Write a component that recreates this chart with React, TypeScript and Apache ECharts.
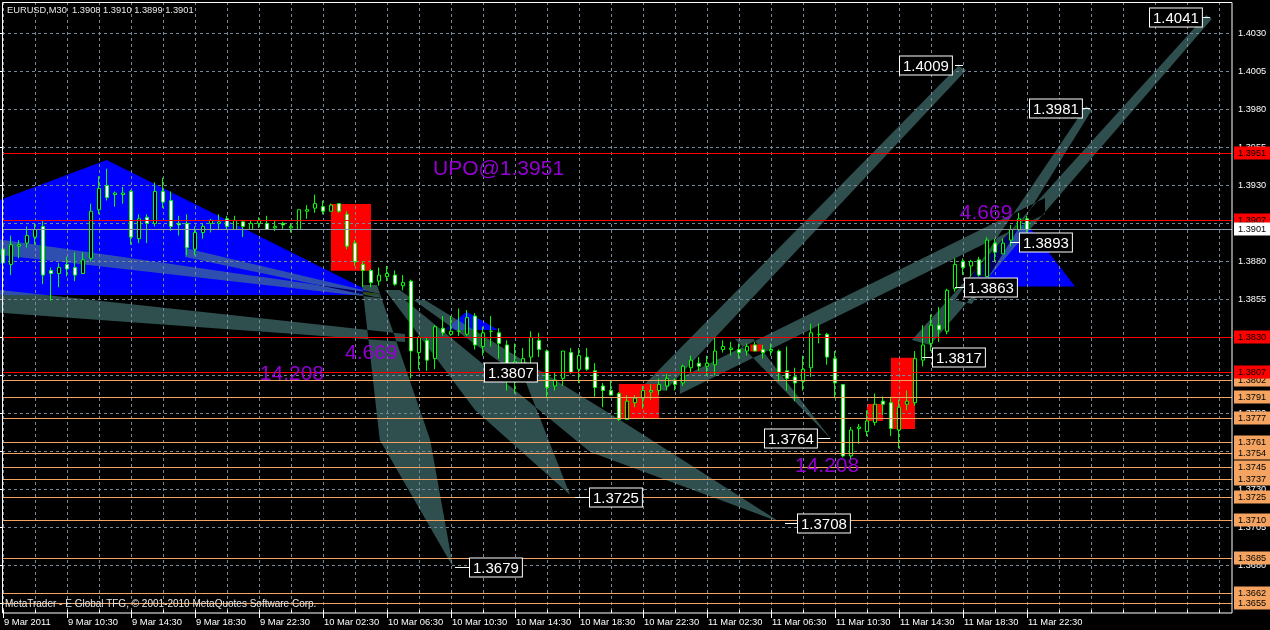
import React, { useEffect, useRef } from "react";
import * as echarts from "echarts";

// ---------- axis tick labels ----------
const xTickLabels = [
  "9 Mar 2011", "9 Mar 10:30", "9 Mar 14:30", "9 Mar 18:30", "9 Mar 22:30",
  "10 Mar 02:30", "10 Mar 06:30", "10 Mar 10:30", "10 Mar 14:30", "10 Mar 18:30",
  "10 Mar 22:30", "11 Mar 02:30", "11 Mar 06:30", "11 Mar 10:30", "11 Mar 14:30",
  "11 Mar 18:30", "11 Mar 22:30",
];
const priceTicks = [
  1.3655, 1.368, 1.3705, 1.373, 1.3755, 1.378, 1.3805, 1.383, 1.3855, 1.388,
  1.3905, 1.393, 1.3955, 1.398, 1.4005, 1.403,
];
const AXIS_SLOTS = 155;

// ---------- candles (M30) ----------
const opens = [
  1.3888, 1.3878, 1.389, 1.3892, 1.3896, 1.3903, 1.3874, 1.3872, 1.3878, 1.3876,
  1.3872, 1.3882, 1.3914, 1.393, 1.3924, 1.3924, 1.3926, 1.3895, 1.3909, 1.3905,
  1.3926, 1.392, 1.3905, 1.3905, 1.3888, 1.3899, 1.3905, 1.3905, 1.3908, 1.3901,
  1.3906, 1.3901, 1.3905, 1.3905, 1.3902, 1.3905, 1.3902, 1.3901, 1.3913, 1.3915,
  1.3916, 1.3913, 1.3918, 1.3911, 1.3892, 1.3878, 1.3874, 1.3867, 1.387, 1.3871,
  1.3864, 1.3867, 1.382, 1.3828, 1.3816, 1.3836, 1.3832, 1.3834, 1.3832, 1.3844,
  1.3824, 1.3834, 1.3833, 1.3825, 1.3811, 1.3813, 1.3817, 1.3828, 1.3821, 1.3798,
  1.3803, 1.382, 1.3809, 1.3817, 1.3808, 1.3798, 1.3795, 1.3793, 1.3776, 1.3787,
  1.379, 1.3794, 1.3795, 1.3798, 1.3802, 1.38, 1.381, 1.3813, 1.3811, 1.3812,
  1.3822, 1.3822, 1.3822, 1.3821, 1.3825, 1.3822, 1.3821, 1.3821, 1.3808, 1.3804,
  1.3801, 1.381, 1.3832, 1.3832, 1.3816, 1.3799, 1.3752, 1.377, 1.3768, 1.3774,
  1.3788, 1.3787, 1.3769, 1.3786, 1.3787, 1.3815, 1.3826, 1.3838, 1.3834, 1.3862,
  1.388, 1.3877, 1.3881, 1.387, 1.3892, 1.3885, 1.3894, 1.3901, 1.3908,
];
const closes = [
  1.3879, 1.3891, 1.3891, 1.3897, 1.3901, 1.3871, 1.3872, 1.3876, 1.3875, 1.3871,
  1.3881, 1.3913, 1.3928, 1.3922, 1.3925, 1.3925, 1.3896, 1.3908, 1.3905, 1.3926,
  1.3919, 1.3903, 1.3904, 1.3889, 1.3899, 1.3903, 1.3907, 1.3906, 1.3903, 1.3907,
  1.3903, 1.3905, 1.3907, 1.3901, 1.3903, 1.3904, 1.3903, 1.3914, 1.3914, 1.3918,
  1.3913, 1.3917, 1.3913, 1.389, 1.388, 1.3874, 1.3866, 1.3871, 1.3872, 1.3865,
  1.3866, 1.3821, 1.383, 1.3815, 1.3837, 1.3833, 1.3834, 1.3834, 1.3843, 1.3825,
  1.3833, 1.3834, 1.3826, 1.3808, 1.3814, 1.3816, 1.383, 1.3822, 1.3797, 1.3802,
  1.3821, 1.3807, 1.3818, 1.3809, 1.3797, 1.3795, 1.3792, 1.3776, 1.3788, 1.379,
  1.3795, 1.3795, 1.3799, 1.3803, 1.3799, 1.3811, 1.3815, 1.3811, 1.3813, 1.3821,
  1.3824, 1.3823, 1.382, 1.3824, 1.3821, 1.382, 1.3822, 1.3807, 1.3803, 1.38,
  1.3809, 1.3833, 1.3832, 1.3817, 1.38, 1.3752, 1.3769, 1.3771, 1.3775, 1.3786,
  1.3786, 1.377, 1.3784, 1.3788, 1.3816, 1.3825, 1.3838, 1.3835, 1.3861, 1.3878,
  1.3876, 1.388, 1.3871, 1.3894, 1.3886, 1.3892, 1.3901, 1.3908, 1.3901,
];
const lows = [
  1.3872, 1.3871, 1.3882, 1.3889, 1.3891, 1.3865, 1.3854, 1.3863, 1.387, 1.3867,
  1.3872, 1.388, 1.3911, 1.392, 1.3916, 1.3918, 1.3891, 1.3892, 1.3892, 1.3903,
  1.3915, 1.39, 1.3897, 1.3884, 1.3884, 1.3895, 1.3899, 1.3901, 1.3901, 1.3901,
  1.3896, 1.3901, 1.3902, 1.3901, 1.39, 1.3901, 1.3899, 1.3901, 1.3908, 1.3912,
  1.3911, 1.3913, 1.3912, 1.3888, 1.3877, 1.3863, 1.3863, 1.3864, 1.3867, 1.3864,
  1.3861, 1.3803, 1.3809, 1.3808, 1.3809, 1.3831, 1.3831, 1.3831, 1.3831, 1.3822,
  1.3818, 1.3824, 1.3816, 1.3795, 1.3793, 1.3808, 1.3813, 1.3817, 1.379, 1.3795,
  1.3798, 1.3806, 1.38, 1.3808, 1.3791, 1.3784, 1.3792, 1.3775, 1.3776, 1.3784,
  1.3783, 1.3789, 1.3792, 1.3795, 1.3795, 1.3798, 1.3807, 1.3808, 1.3805, 1.3805,
  1.382, 1.3818, 1.3816, 1.3818, 1.3821, 1.3816, 1.3818, 1.3801, 1.3795, 1.3788,
  1.3795, 1.3804, 1.3826, 1.3812, 1.379, 1.3751, 1.375, 1.376, 1.3765, 1.3772,
  1.3779, 1.3765, 1.3757, 1.3782, 1.3785, 1.3811, 1.3821, 1.3827, 1.3832, 1.386,
  1.3871, 1.387, 1.387, 1.387, 1.388, 1.3885, 1.389, 1.39, 1.3899,
];
const highs = [
  1.3889, 1.3897, 1.3894, 1.3903, 1.3905, 1.3907, 1.3876, 1.3879, 1.3883, 1.3886,
  1.3886, 1.3918, 1.3936, 1.3941, 1.3926, 1.3929, 1.3927, 1.3911, 1.3911, 1.3932,
  1.3935, 1.3926, 1.391, 1.3911, 1.3903, 1.3905, 1.3908, 1.3911, 1.391, 1.391,
  1.3907, 1.3907, 1.3909, 1.391, 1.3907, 1.3906, 1.3905, 1.3914, 1.3917, 1.3924,
  1.392, 1.3918, 1.3918, 1.3913, 1.3894, 1.388, 1.3875, 1.3876, 1.3877, 1.3874,
  1.3871, 1.3868, 1.3831, 1.383, 1.3838, 1.3844, 1.3844, 1.3849, 1.3848, 1.3846,
  1.3837, 1.3844, 1.3836, 1.3828, 1.3826, 1.3823, 1.3834, 1.3833, 1.3822, 1.3807,
  1.3821, 1.3823, 1.3823, 1.3823, 1.3813, 1.38, 1.3802, 1.3794, 1.3792, 1.3792,
  1.3798, 1.3799, 1.3803, 1.3806, 1.3803, 1.3812, 1.3818, 1.3817, 1.3818, 1.383,
  1.3828, 1.3827, 1.3826, 1.3826, 1.3827, 1.3825, 1.3826, 1.3822, 1.3824, 1.381,
  1.3818, 1.3839, 1.3839, 1.3833, 1.3821, 1.3799, 1.3771, 1.3773, 1.3782, 1.3793,
  1.3791, 1.3791, 1.3789, 1.3795, 1.3821, 1.3838, 1.3845, 1.385, 1.3862, 1.3882,
  1.3882, 1.3881, 1.3883, 1.3896, 1.3895, 1.3895, 1.3904, 1.3912, 1.391,
];

// ---------- horizontal levels ----------
const redLevels = [1.3951, 1.3907, 1.383, 1.3807];
const bidLevel = 1.3901;
const orangeLevels = [
  1.3802, 1.3791, 1.3777, 1.3761, 1.3754, 1.3745, 1.3737, 1.3725, 1.371, 1.3685,
  1.3662, 1.3655,
];

// ---------- drawn objects, in (bar index, price) ----------
const blueTriangles = [
  [[-32, 1.38579], [12.96, 1.39468], [46.7, 1.38579]],
  [[55.04, 1.38349], [57.96, 1.38469], [61.91, 1.38349]],
  [[120, 1.38634], [127.3, 1.39094], [134, 1.38634]],
];
const fans = [
  // converging from the left edge
  [[-1.6, 1.38619], [50.25, 1.38322], [50.25, 1.3827], [-1.6, 1.38467]],
  [[-1.6, 1.38954], [47.1, 1.38586], [47.1, 1.38559], [-1.6, 1.38849]],
  [[22.75, 1.38888], [47.1, 1.38586], [47.1, 1.38559], [22.75, 1.38829]],
  // down to 1.3679 / 1.3725 / 1.3708
  [[44.9, 1.38645], [46.75, 1.38645], [53.4, 1.37625], [56.25, 1.36789], [47.1, 1.37625]],
  [[47.75, 1.38612], [49.6, 1.38612], [65.25, 1.3802], [70.9, 1.37263], [59, 1.37822]],
  [[50.25, 1.38546], [52.75, 1.38546], [77.1, 1.37757], [97.1, 1.37085], [73.4, 1.37546]],
  // down to 1.3764
  [[91.5, 1.3829], [93.8, 1.3829], [103.6, 1.37625]],
  // up to 1.4009
  [[80, 1.3798], [82.75, 1.37947], [120.4, 1.4006], [119.4, 1.40086]],
  // long shallow band
  [[84.6, 1.38033], [130.25, 1.39217], [130.25, 1.39112], [84.6, 1.37928]],
  // up to 1.3981
  [[119, 1.38546], [121.1, 1.3852], [136.1, 1.39797], [135.4, 1.39823]],
  // up to 1.4041
  [[113.6, 1.38283], [115.9, 1.3825], [151.1, 1.40395], [150.4, 1.40422]],
];
// [fromBar, toBar, topPrice, bottomPrice]
const redBoxes = [
  [41, 46, 1.39178, 1.38739],
  [77, 82, 1.37993, 1.37763],
  [93.4, 95, 1.38253, 1.38207],
  [108, 110, 1.37862, 1.3775],
  [111, 114, 1.38166, 1.37697],
];
// price labels: text, box left bar, leader from/to bar
const targetTexts = ["1.4041", "1.4009", "1.3981", "1.3893", "1.3863", "1.3817", "1.3807", "1.3764", "1.3725", "1.3708", "1.3679"];
const targetBoxBar = [143.4, 112.1, 128.4, 127.1, 120.25, 116.25, 60.25, 95.25, 73.4, 99.4, 58.4];
const targetLead = [
  [149.1, 150.9], [119, 120], [134.9, 135.9], [125.9, 127.1], [119, 120.25],
  [114.9, 116.25], null, [101.9, 103.4], [71.5, 73.4], [97.75, 99.4], [56.5, 58.4],
];
const noteTexts = ["UPO@1.3951", "4.669", "14.208", "4.669", "14.208"];
const noteBar = [53.75, 42.75, 32.1, 119.6, 99];
const notePrice = [1.39421, 1.38204, 1.38072, 1.39125, 1.3746];

const FONT = '"Liberation Sans", Arial, sans-serif';
const TEAL = "#2F4F4F";

export default function App() {
  const ref = useRef<HTMLDivElement>(null);

  useEffect(() => {
    if (!ref.current) return;
    const chart = echarts.init(ref.current, undefined, { renderer: "svg" });

    const xCategories = Array.from({ length: AXIS_SLOTS }, (_, i) =>
      i % 8 === 0 && i / 8 < xTickLabels.length ? xTickLabels[i / 8] : ""
    );
    const candleData = opens.map((o, i) => [o, closes[i], lows[i], highs[i]]);
    const vGrid = Array.from({ length: 39 }, (_, k) => 4 * k);

    const hLines = [
      ...redLevels.map((v) => ({ v, c: "#FF0000" })),
      { v: bidLevel, c: "#8A99A8" },
      ...orangeLevels.map((v) => ({ v, c: "#F4A460" })),
    ];
    const tags = [
      ...orangeLevels.map((v) => ({ v, bg: "#F4A460" })),
      ...redLevels.map((v) => ({ v, bg: "#FF0000" })),
      { v: bidLevel, bg: "#FFFFFF" },
    ];

    const fillItems = [
      ...blueTriangles.map((p) => ({ p, blue: true })),
      ...fans.map((p) => ({ p, blue: false })),
    ];

    const option: any = {
      animation: false,
      backgroundColor: "#000000",
      textStyle: { fontFamily: FONT },
      grid: { left: 3, right: 35, top: 2, bottom: 17 },
      xAxis: [
        {
          type: "category",
          data: xCategories,
          boundaryGap: false,
          axisLine: { show: false },
          axisTick: {
            show: true,
            interval: (i: number) => i % 8 === 0 && i <= 128,
            length: 5,
            lineStyle: { color: "#FFFFFF" },
          },
          axisLabel: {
            interval: (i: number) => i % 8 === 0 && i <= 128,
            color: "#FFFFFF",
            fontSize: 9.4,
            fontFamily: FONT,
            align: "left",
            margin: 4,
            padding: [0, 0, 0, 1],
          },
          splitLine: { show: false },
        },
        { type: "value", min: 0, max: AXIS_SLOTS - 1, show: false },
      ],
      yAxis: {
        type: "value",
        position: "right",
        min: 1.36486,
        max: 1.40507,
        scale: true,
        axisLine: { show: false },
        axisTick: { show: true, inside: true, length: 3, customValues: priceTicks, lineStyle: { color: "#FFFFFF" } },
        axisLabel: {
          customValues: priceTicks,
          color: "#FFFFFF",
          fontSize: 9.2,
          fontFamily: FONT,
          margin: 3,
          formatter: (v: number) => v.toFixed(4),
        },
        splitLine: { show: false },
      },
      series: [
        // blue triangles + fans
        {
          type: "custom",
          xAxisIndex: 1,
          clip: false,
          silent: true,
          z: 1,
          data: fillItems.map((f) => f.p[0]),
          renderItem: (params: any, api: any) => {
            const f = fillItems[params.dataIndex];
            const pts = f.p.map((pt: number[]) => api.coord(pt));
            return {
              type: "polygon",
              shape: { points: pts },
              style: f.blue
                ? { fill: "#0000FF" }
                : { fill: TEAL, blend: "difference" },
            };
          },
        },
        // red boxes
        {
          type: "custom",
          xAxisIndex: 1,
          clip: false,
          silent: true,
          z: 2,
          data: redBoxes.map((b) => [b[0], b[2]]),
          renderItem: (params: any, api: any) => {
            const b = redBoxes[params.dataIndex];
            const a = api.coord([b[0], b[2]]);
            const c = api.coord([b[1], b[3]]);
            return {
              type: "rect",
              shape: { x: a[0], y: a[1], width: c[0] - a[0], height: c[1] - a[1] },
              style: { fill: "#FF0000" },
            };
          },
        },
        // grid (dashed) + small time ticks
        {
          type: "custom",
          xAxisIndex: 1,
          clip: false,
          silent: true,
          z: 3,
          data: [...vGrid.map((i) => [i, priceTicks[0]]), ...priceTicks.map((p) => [0, p])],
          renderItem: (params: any, api: any) => {
            const cs = params.coordSys;
            const k = params.dataIndex;
            const style = { stroke: "#778899", lineWidth: 1, lineDash: [3, 3] };
            if (k < vGrid.length) {
              const x = Math.round(api.coord([vGrid[k], priceTicks[0]])[0]) + 0.5;
              const bottom = cs.y + cs.height;
              return {
                type: "group",
                children: [
                  { type: "line", shape: { x1: x, y1: cs.y, x2: x, y2: bottom }, style },
                  {
                    type: "line",
                    shape: { x1: x, y1: bottom - 3, x2: x, y2: bottom },
                    style: { stroke: "#FFFFFF", lineWidth: 1 },
                  },
                ],
              };
            }
            const y = Math.round(api.coord([0, priceTicks[k - vGrid.length]])[1]) + 0.5;
            return { type: "line", shape: { x1: cs.x - 1, y1: y, x2: cs.x + cs.width - 3, y2: y }, style };
          },
        },
        {
          type: "candlestick",
          data: candleData,
          barWidth: 4,
          z: 4,
          itemStyle: {
            color: "#000000",
            color0: "#FFFFFF",
            borderColor: "#00FF00",
            borderColor0: "#00FF00",
            borderColorDoji: "#00FF00",
            borderWidth: 1,
          },
        },
        // horizontal levels
        {
          type: "custom",
          xAxisIndex: 1,
          clip: false,
          silent: true,
          z: 5,
          data: hLines.map((h) => [0, h.v]),
          renderItem: (params: any, api: any) => {
            const cs = params.coordSys;
            const h = hLines[params.dataIndex];
            const y = Math.round(api.coord([0, h.v])[1]) + 0.5;
            return {
              type: "line",
              shape: { x1: cs.x - 1, y1: y, x2: cs.x + cs.width - 3, y2: y },
              style: { stroke: h.c, lineWidth: 1 },
            };
          },
        },
        // purple notes
        {
          type: "custom",
          xAxisIndex: 1,
          clip: false,
          silent: true,
          z: 6,
          data: noteTexts.map((_, i) => [noteBar[i], notePrice[i]]),
          renderItem: (params: any, api: any) => {
            const i = params.dataIndex;
            const p = api.coord([noteBar[i], notePrice[i]]);
            return {
              type: "text",
              x: p[0],
              y: p[1],
              style: {
                text: noteTexts[i],
                fill: "#9400D3",
                font: `21px ${FONT}`,
                align: "left",
                verticalAlign: "middle",
              },
            };
          },
        },
        // target price boxes
        {
          type: "custom",
          xAxisIndex: 1,
          clip: false,
          silent: true,
          z: 7,
          data: targetTexts.map((t, i) => [targetBoxBar[i], parseFloat(t)]),
          renderItem: (params: any, api: any) => {
            const i = params.dataIndex;
            const v = parseFloat(targetTexts[i]);
            const p = api.coord([targetBoxBar[i], v]);
            const y = Math.round(p[1]) + 0.5;
            const children: any[] = [];
            const lead = targetLead[i];
            if (lead) {
              const a = api.coord([lead[0], v]);
              const b = api.coord([lead[1], v]);
              children.push({
                type: "line",
                shape: { x1: a[0], y1: y, x2: b[0], y2: y },
                style: { stroke: "#FFFFFF", lineWidth: 1 },
              });
            }
            children.push({
              type: "text",
              x: Math.round(p[0]),
              y: y,
              style: {
                text: targetTexts[i],
                fill: "#FFFFFF",
                font: `15px ${FONT}`,
                align: "left",
                verticalAlign: "middle",
                backgroundColor: "#000000",
                borderColor: "#FFFFFF",
                borderWidth: 1,
                padding: [2, 3, 1, 3],
                lineHeight: 15,
              },
            });
            return { type: "group", children };
          },
        },
        // price tags on the right scale
        {
          type: "custom",
          xAxisIndex: 1,
          clip: false,
          silent: true,
          z: 8,
          data: tags.map((t) => [AXIS_SLOTS - 1, t.v]),
          renderItem: (params: any, api: any) => {
            const cs = params.coordSys;
            const t = tags[params.dataIndex];
            const y = api.coord([0, t.v])[1];
            return {
              type: "text",
              x: cs.x + cs.width - 1,
              y: Math.round(y),
              style: {
                text: t.v.toFixed(4),
                fill: "#000000",
                font: `9.2px ${FONT}`,
                align: "left",
                verticalAlign: "middle",
                backgroundColor: t.bg,
                padding: [2, 6, 1, 4],
                lineHeight: 10,
              },
            };
          },
        },
      ],
      graphic: [
        {
          type: "rect",
          silent: true,
          z: 100,
          shape: { x: 2.5, y: 2.5, width: 1229.5, height: 610.5 },
          style: { fill: "none", stroke: "#FFFFFF", lineWidth: 1 },
        },
        {
          type: "text",
          left: 7,
          top: 5,
          z: 100,
          style: {
            text: "EURUSD,M30  1.3908 1.3910 1.3899 1.3901",
            fill: "#E8E8E8",
            font: `9.3px ${FONT}`,
          },
        },
        {
          type: "text",
          left: 5,
          top: 598,
          z: 100,
          style: {
            text: "MetaTrader - E Global TFG, © 2001-2010 MetaQuotes Software Corp.",
            fill: "#E8E8E8",
            font: `10px ${FONT}`,
          },
        },
      ],
    };

    chart.setOption(option);

    const applyBlend = () => {
      const svg = ref.current?.querySelector("svg");
      if (!svg) return;
      svg.querySelectorAll("path, polygon").forEach((el: any) => {
        const f = (el.getAttribute("fill") || "").toLowerCase().replace(/\s/g, "");
        if (f === "#2f4f4f" || f === "rgb(47,79,79)") el.style.mixBlendMode = "difference";
      });
    };
    applyBlend();
    chart.on("finished", applyBlend);
    const t = setTimeout(applyBlend, 50);

    return () => {
      clearTimeout(t);
      chart.dispose();
    };
  }, []);

  return (
    <div
      ref={ref}
      style={{ position: "fixed", left: 0, top: 0, width: 1270, height: 630, background: "#000" }}
    />
  );
}
